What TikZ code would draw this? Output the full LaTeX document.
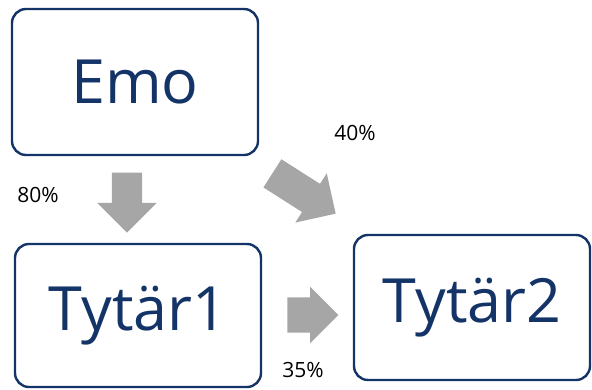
\documentclass[tikz,border=0pt]{standalone}
\usepackage{fontspec}
\setmainfont{Open Sans}
\usetikzlibrary{shapes.arrows}
\definecolor{navy}{RGB}{20,52,104}
\definecolor{arrowgrey}{RGB}{166,166,166}

\begin{document}
\begin{tikzpicture} [x=1pt,y=-1pt,
  company/.style={draw=navy,line width=2.4pt,rounded corners=14pt,text=navy,
    font=\fontsize{61}{61}\selectfont,inner sep=0pt},
  share/.style={single arrow,fill=arrowgrey,draw=none,inner xsep=0pt,
    single arrow tip angle=90},
  pct/.style={font=\fontsize{21}{21}\selectfont,text=black}]
\useasboundingbox (0,0) rectangle (592,389);
\node [company,minimum width=246pt,minimum height=146pt] (emo) at (135,82) {Emo};
\node [company,minimum width=246pt,minimum height=143pt] (t1) at (138,315.5) {Tytär1};
\node [company,minimum width=236pt,minimum height=145pt] (t2) at (472,307.5) {Tytär2};
% ownership arrows
\node [share,inner ysep=15pt,single arrow head extend=14.5pt,minimum height=60pt,
  rotate=-90] (a1) at (127,195) {};
\node [share,inner ysep=16.5pt,single arrow head extend=12.5pt,minimum height=75pt,
  rotate=-32.5] (a2) at (297,189) {};
\node [share,inner ysep=17.5pt,single arrow head extend=10.5pt,minimum height=51pt]
  (a3) at (304,315) {};
\node [pct] (p1) at (38,195) {80\%};
\node [pct] (p2) at (355,133) {40\%};
\node [pct] (p3) at (303,370) {35\%};
\end{tikzpicture}
\end{document}
